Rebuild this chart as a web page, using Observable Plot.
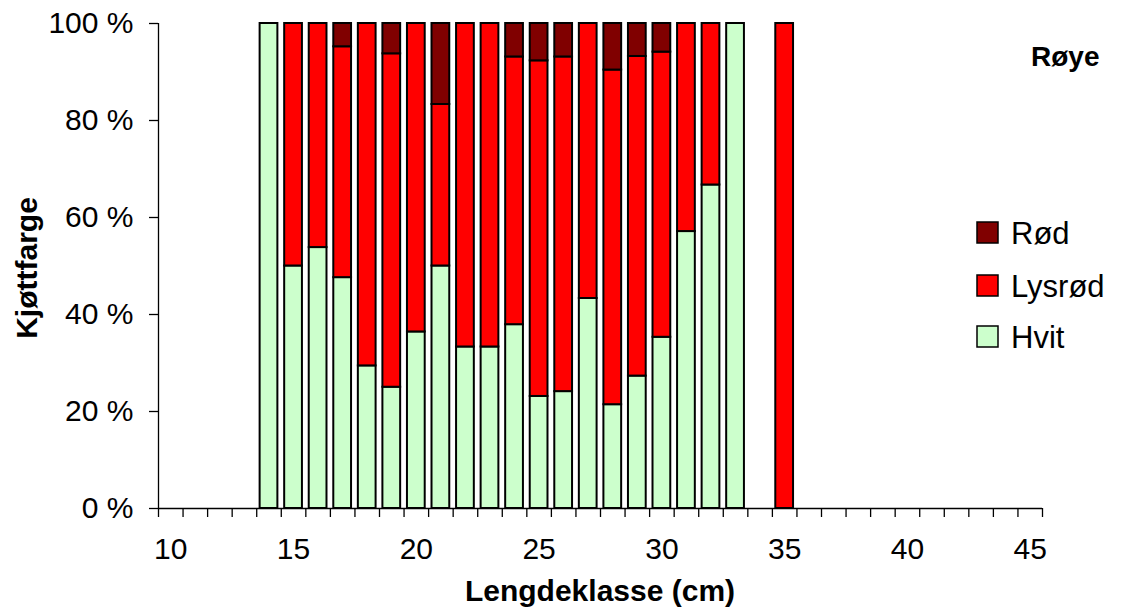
<!DOCTYPE html>
<html>
<head>
<meta charset="utf-8">
<script src="https://cdn.jsdelivr.net/npm/d3@7"></script>
<script src="https://cdn.jsdelivr.net/npm/@observablehq/plot@0.6"></script>
<style>
  body { margin: 0; background: #fff; }
  #chart { position: relative; width: 1121px; height: 611px; }
  #chart svg { display: block; }
</style>
</head>
<body>
<div id="chart"></div>
<script>
// Length classes (cm) that have fish, and the share (%) of each flesh colour
const lengths = [14, 15, 16, 17, 18, 19, 20, 21, 22, 23, 24, 25, 26, 27, 28, 29, 30, 31, 32, 33, 35];
const hvit    = [100, 50, 53.8, 47.6, 29.4, 25, 36.4, 50, 33.3, 33.3, 37.9, 23.1, 24.1, 43.3, 21.4, 27.3, 35.3, 57.1, 66.7, 100, 0];
const lysrod  = [0, 50, 46.2, 47.6, 70.6, 68.75, 63.6, 33.3, 66.7, 66.7, 55.2, 69.2, 69.0, 56.7, 69.0, 65.9, 58.8, 42.9, 33.3, 0, 100];
const rod     = [0, 0, 0, 4.8, 0, 6.25, 0, 16.7, 0, 0, 6.9, 7.7, 6.9, 0, 9.6, 6.8, 5.9, 0, 0, 0, 0];

const series = ["Hvit", "Lysrød", "Rød"];
const colors = ["#CCFFCC", "#FF0000", "#800000"];
const legendOrder = ["Rød", "Lysrød", "Hvit"];

// Axis ticks
const xClasses = d3.range(10, 46);          // 10 … 45 length classes
const xLabels = [10, 15, 20, 25, 30, 35, 40, 45];
const yTicks = [0, 20, 40, 60, 80, 100];

const font = "'Liberation Sans', Arial, sans-serif";

// Long table: one row per length class and colour, bottom to top
const values = {Hvit: hvit, "Lysrød": lysrod, "Rød": rod};
const data = [];
lengths.forEach((len, i) => {
  series.forEach(s => {
    if (values[s][i] > 0) data.push({len, serie: s, pct: values[s][i]});
  });
});

// Category boundaries sit halfway between classes
const boundaries = xClasses.map(c => c - 0.5).concat([xClasses[xClasses.length - 1] + 0.5]);

const plot = Plot.plot({
  width: 1121,
  height: 611,
  marginLeft: 158,
  marginRight: 79,
  marginTop: 23,
  marginBottom: 103,
  style: {fontFamily: font, fontSize: "30px", color: "black", background: "white", overflow: "visible"},
  x: {domain: [boundaries[0], boundaries[boundaries.length - 1]]},
  y: {domain: [0, 100]},
  color: {domain: series, range: colors},
  marks: [
    Plot.rectY(data, {
      x1: d => d.len - 0.5,
      x2: d => d.len + 0.5,
      y: "pct",
      fill: "serie",
      stroke: "black",
      strokeWidth: 2,
      insetLeft: 3.4,
      insetRight: 3.4
    }),
    Plot.axisY({ticks: yTicks, tickFormat: d => d + " %", tickSize: 9, tickPadding: 16, label: null, strokeWidth: 1.3}),
    Plot.axisX({ticks: boundaries, tickFormat: () => "", tickSize: 9, tickPadding: 0, label: null, strokeWidth: 1.3}),
    Plot.axisX({ticks: xLabels, tickSize: 0, tickPadding: 29, label: null}),
    Plot.ruleY([0], {strokeWidth: 1.3}),
    Plot.ruleX([boundaries[0]], {strokeWidth: 1.3})
  ]
});

document.getElementById("chart").appendChild(plot);

// Titles and legend
const svg = d3.select(plot);

svg.append("text")
  .attr("x", 600).attr("y", 601)
  .attr("text-anchor", "middle")
  .style("font", `bold 30px ${font}`)
  .text("Lengdeklasse (cm)");

svg.append("text")
  .attr("transform", "translate(37,268) rotate(-90)")
  .attr("text-anchor", "middle")
  .style("font", `bold 30px ${font}`)
  .text("Kjøttfarge");

svg.append("text")
  .attr("x", 1031).attr("y", 66)
  .attr("text-anchor", "start")
  .style("font", `bold 28px ${font}`)
  .text("Røye");

const legendRows = [222, 275, 326];
legendOrder.forEach((s, i) => {
  const top = legendRows[i];
  svg.append("rect")
    .attr("x", 977).attr("y", top)
    .attr("width", 21).attr("height", 21)
    .attr("fill", colors[series.indexOf(s)])
    .attr("stroke", "black").attr("stroke-width", 1.5);
  svg.append("text")
    .attr("x", 1011).attr("y", top + 21.5)
    .attr("text-anchor", "start")
    .style("font", `31px ${font}`)
    .text(s);
});
</script>
</body>
</html>
